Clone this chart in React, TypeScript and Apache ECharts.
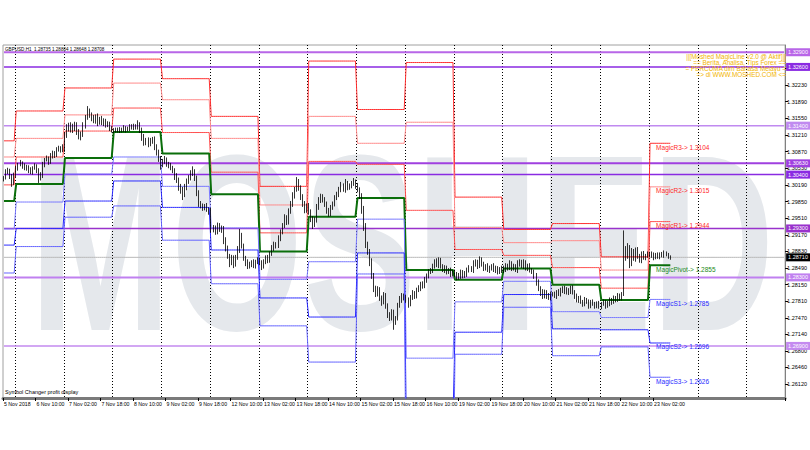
import React, { useEffect, useRef } from "react";
import * as echarts from "echarts";

// ---- structure ----
const barsPerDay = [6, 24, 24, 24, 24, 24, 24, 24, 24, 24, 24, 24, 24, 24, 11];
const totalSlots = 385;
const labelEvery = 16;
const separatorEvery = 24;
const firstSeparatorBar = 6;

const xTickLabels = [
  "5 Nov 2018", "6 Nov 10:00", "7 Nov 02:00", "7 Nov 18:00", "8 Nov 10:00", "9 Nov 02:00",
  "9 Nov 18:00", "12 Nov 10:00", "13 Nov 02:00", "13 Nov 18:00", "14 Nov 10:00", "15 Nov 02:00",
  "15 Nov 18:00", "16 Nov 10:00", "19 Nov 02:00", "19 Nov 18:00", "20 Nov 10:00", "21 Nov 02:00",
  "21 Nov 18:00", "22 Nov 10:00", "23 Nov 02:00",
];

const yTickValues = [
  1.2612, 1.2646, 1.268, 1.2714, 1.2747, 1.2781, 1.2815, 1.2849, 1.2883, 1.2917,
  1.2951, 1.2985, 1.3019, 1.3053, 1.3087, 1.3121, 1.3155, 1.3189, 1.3223, 1.3257,
];
const yMin = 1.25836;
const yMax = 1.33048;

// ---- GBPUSD H1 candles ----
const firstOpen = 1.3031;
const closes = [
  1.3033, 1.3045, 1.3049, 1.3037, 1.3023, 1.3039,
  1.3053, 1.3060, 1.3064, 1.3058, 1.3053, 1.3056, 1.3049, 1.3045, 1.3053, 1.3058, 1.3049, 1.3033, 1.3037, 1.3060, 1.3070, 1.3074, 1.3066, 1.3078, 1.3084, 1.3080, 1.3090, 1.3094, 1.3090, 1.3096,
  1.3121, 1.3135, 1.3141, 1.3131, 1.3137, 1.3143, 1.3127, 1.3117, 1.3123, 1.3139, 1.3156, 1.3168, 1.3162, 1.3156, 1.3150, 1.3158, 1.3147, 1.3154, 1.3145, 1.3150, 1.3141, 1.3143, 1.3135, 1.3131,
  1.3129, 1.3131, 1.3133, 1.3129, 1.3131, 1.3135, 1.3131, 1.3133, 1.3137, 1.3139, 1.3135, 1.3137, 1.3143, 1.3131, 1.3117, 1.3105, 1.3111, 1.3103, 1.3109, 1.3113, 1.3098, 1.3086, 1.3074, 1.3060,
  1.3066, 1.3070, 1.3062, 1.3058, 1.3053, 1.3049, 1.3037, 1.3029, 1.3017, 1.3009, 1.3000, 1.3013, 1.3025, 1.3033, 1.3041, 1.3045, 1.3033, 1.3004, 1.2980, 1.2976, 1.2972, 1.2976, 1.2968, 1.2964,
  1.2927, 1.2931, 1.2923, 1.2935, 1.2927, 1.2931, 1.2906, 1.2890, 1.2874, 1.2861, 1.2870, 1.2857, 1.2870, 1.2886, 1.2915, 1.2894, 1.2870, 1.2861, 1.2853, 1.2857, 1.2861, 1.2853, 1.2861, 1.2865,
  1.2861, 1.2853, 1.2861, 1.2870, 1.2865, 1.2878, 1.2890, 1.2898, 1.2894, 1.2910, 1.2923, 1.2935, 1.2951, 1.2943, 1.2964, 1.2980, 1.2996, 1.3009, 1.3025, 1.3013, 1.2996, 1.2980, 1.2968, 1.2976,
  1.2964, 1.2951, 1.2939, 1.2947, 1.2972, 1.2988, 1.2996, 1.2988, 1.2980, 1.2968, 1.2960, 1.2972, 1.2980, 1.2992, 1.3000, 1.3009, 1.3017, 1.3009, 1.3021, 1.3013, 1.3017, 1.3021, 1.3025, 1.3017,
  1.3009, 1.2996, 1.2968, 1.2935, 1.2898, 1.2882, 1.2861, 1.2833, 1.2808, 1.2796, 1.2804, 1.2788, 1.2780, 1.2792, 1.2772, 1.2755, 1.2747, 1.2759, 1.2739, 1.2747, 1.2772, 1.2784, 1.2792, 1.2788,
  1.2784, 1.2776, 1.2788, 1.2796, 1.2792, 1.2804, 1.2808, 1.2817, 1.2812, 1.2825, 1.2833, 1.2841, 1.2845, 1.2853, 1.2861, 1.2857, 1.2865, 1.2853, 1.2845, 1.2849, 1.2841, 1.2845, 1.2837, 1.2841,
  1.2837, 1.2829, 1.2833, 1.2841, 1.2833, 1.2837, 1.2845, 1.2849, 1.2845, 1.2857, 1.2861, 1.2853, 1.2865, 1.2857, 1.2849, 1.2853, 1.2845, 1.2849, 1.2853, 1.2845, 1.2849, 1.2841, 1.2845, 1.2849,
  1.2845, 1.2853, 1.2849, 1.2857, 1.2849, 1.2853, 1.2845, 1.2857, 1.2861, 1.2853, 1.2861, 1.2849, 1.2853, 1.2845, 1.2841, 1.2833, 1.2821, 1.2808, 1.2800, 1.2792, 1.2800, 1.2792, 1.2788, 1.2796,
  1.2796, 1.2792, 1.2800, 1.2796, 1.2804, 1.2808, 1.2800, 1.2804, 1.2800, 1.2808, 1.2800, 1.2792, 1.2784, 1.2788, 1.2780, 1.2776, 1.2784, 1.2780, 1.2772, 1.2780, 1.2776, 1.2772, 1.2776, 1.2770,
  1.2776, 1.2780, 1.2772, 1.2776, 1.2784, 1.2780, 1.2788, 1.2784, 1.2792, 1.2788, 1.2796, 1.2886, 1.2874, 1.2890, 1.2861, 1.2882, 1.2870, 1.2886, 1.2874, 1.2865, 1.2878, 1.2870, 1.2874, 1.2878,
  1.2874, 1.2878, 1.2870, 1.2876, 1.2872, 1.2878, 1.2874, 1.2880, 1.2876, 1.2872, 1.2871,
];
const upWickPips = [
  4, 6, 5, 3, 4, 5,
  5, 4, 6, 3, 5, 4, 3, 6, 4, 5, 3, 4, 8, 6, 4, 5, 3, 6, 5, 4, 6, 5, 4, 6,
  6, 8, 5, 6, 7, 5, 4, 6, 5, 8, 6, 12, 7, 5, 6, 5, 7, 4, 6, 5, 4, 6, 5, 4,
  4, 5, 3, 4, 5, 6, 4, 5, 6, 4, 5, 6, 8, 4, 5, 6, 4, 5, 6, 4, 5, 4, 5, 4,
  6, 8, 5, 4, 6, 5, 4, 6, 5, 4, 6, 8, 7, 6, 8, 12, 6, 5, 4, 6, 5, 4, 6, 5,
  8, 6, 5, 7, 6, 5, 4, 6, 5, 4, 6, 5, 6, 8, 14, 6, 5, 4, 6, 5, 4, 6, 5, 6,
  5, 4, 6, 5, 6, 5, 6, 5, 4, 6, 5, 6, 8, 6, 7, 6, 8, 6, 10, 6, 5, 4, 6, 5,
  6, 5, 4, 6, 8, 6, 5, 4, 6, 5, 4, 6, 5, 6, 5, 6, 8, 5, 10, 6, 5, 6, 8, 5,
  6, 5, 6, 8, 6, 5, 6, 8, 6, 5, 8, 6, 5, 8, 6, 5, 4, 6, 5, 4, 6, 8, 6, 5,
  6, 5, 6, 8, 6, 5, 6, 4, 5, 6, 5, 6, 4, 5, 6, 8, 6, 5, 4, 6, 5, 4, 5, 4,
  5, 4, 6, 5, 4, 6, 5, 6, 4, 8, 6, 5, 8, 6, 5, 4, 6, 5, 4, 6, 5, 4, 6, 5,
  5, 6, 5, 8, 6, 5, 4, 8, 6, 5, 6, 4, 5, 6, 4, 5, 6, 5, 4, 6, 5, 4, 6, 5,
  4, 5, 4, 6, 5, 4, 5, 6, 4, 5, 6, 4, 5, 4, 5, 4, 6, 4, 5, 4, 5, 4, 5, 6,
  4, 5, 4, 6, 5, 4, 5, 4, 6, 5, 4, 40, 8, 10, 6, 8, 6, 5, 6, 4, 5, 6, 4, 5,
  4, 5, 3, 4, 5, 3, 4, 5, 3, 4, 3,
];
const downWickPips = [
  5, 3, 4, 6, 8, 4,
  4, 5, 3, 6, 4, 5, 6, 4, 5, 3, 6, 10, 5, 4, 5, 3, 6, 4, 5, 6, 4, 3, 5, 4,
  10, 6, 7, 5, 6, 8, 6, 5, 7, 6, 5, 4, 6, 7, 5, 6, 8, 5, 4, 6, 5, 4, 6, 5,
  4, 3, 5, 4, 3, 4, 5, 3, 4, 5, 4, 3, 5, 6, 8, 6, 5, 7, 5, 6, 8, 7, 8, 10,
  5, 4, 6, 5, 4, 6, 8, 6, 10, 8, 12, 6, 5, 4, 5, 4, 6, 8, 6, 5, 6, 5, 4, 6,
  6, 5, 6, 5, 4, 6, 8, 7, 6, 10, 6, 8, 5, 4, 6, 5, 6, 8, 6, 5, 6, 4, 5, 4,
  6, 8, 5, 4, 6, 5, 4, 6, 5, 4, 6, 5, 4, 6, 5, 4, 6, 5, 4, 6, 8, 6, 7, 6,
  6, 8, 10, 6, 5, 4, 6, 5, 6, 8, 6, 5, 4, 5, 4, 6, 5, 4, 6, 5, 4, 5, 4, 6,
  5, 6, 8, 10, 8, 6, 8, 6, 8, 6, 5, 6, 8, 5, 6, 8, 6, 5, 16, 6, 5, 4, 6, 5,
  6, 8, 5, 4, 6, 5, 4, 6, 5, 4, 6, 5, 4, 6, 5, 6, 8, 5, 4, 6, 5, 4, 6, 5,
  6, 5, 4, 6, 5, 4, 6, 5, 4, 6, 5, 6, 4, 5, 6, 5, 4, 6, 5, 4, 6, 5, 4, 6,
  6, 4, 5, 4, 6, 5, 4, 6, 5, 4, 6, 5, 6, 5, 4, 6, 8, 6, 8, 6, 5, 6, 4, 5,
  5, 4, 6, 4, 5, 6, 4, 5, 6, 4, 5, 6, 5, 6, 4, 6, 5, 4, 6, 5, 4, 6, 5, 4,
  5, 4, 6, 4, 5, 6, 4, 5, 4, 6, 5, 4, 10, 6, 12, 8, 6, 8, 6, 5, 6, 4, 5, 4,
  3, 4, 5, 3, 4, 5, 3, 4, 3, 4, 5,
];

// ---- daily MagicLine levels (one value per day) ----
const magicR3 = [1.3109, 1.317, 1.3217, 1.3276, 1.3236, 1.3159, 1.3016, 1.3272, 1.3173, 1.3269, 1.2994, 1.2928, 1.294, 1.2872, 1.3104];
const magicR2 = [1.3076, 1.3114, 1.3162, 1.3227, 1.3193, 1.3114, 1.2978, 1.3159, 1.3104, 1.3147, 1.2932, 1.2901, 1.2905, 1.2845, 1.3015];
const magicR1 = [1.3019, 1.3076, 1.3129, 1.3176, 1.3126, 1.3045, 1.2921, 1.3067, 1.3061, 1.2967, 1.2887, 1.2875, 1.285, 1.2808, 1.2944];
const magicPivot = [1.2986, 1.3021, 1.3074, 1.3127, 1.3083, 1.3, 1.2883, 1.2954, 1.2992, 1.2845, 1.2825, 1.2848, 1.2815, 1.2784, 1.2855];
const magicS1 = [1.2929, 1.2984, 1.3041, 1.3076, 1.3016, 1.2931, 1.2826, 1.2862, 1.2949, 1.2665, 1.278, 1.2822, 1.276, 1.2748, 1.2785];
const magicS2 = [1.2896, 1.293, 1.2986, 1.3027, 1.2973, 1.2886, 1.2788, 1.2749, 1.288, 1.2543, 1.2718, 1.2795, 1.2725, 1.2723, 1.2696];
const magicS3 = [1.2839, 1.2893, 1.2953, 1.2976, 1.2906, 1.2817, 1.2731, 1.2657, 1.2837, 1.2363, 1.2673, 1.2769, 1.267, 1.2688, 1.2626];

const magicNames = ["MagicR3", "MagicR2", "MagicR1", "MagicPivot", "MagicS1", "MagicS2", "MagicS3"];
const magicLevels = [magicR3, magicR2, magicR1, magicPivot, magicS1, magicS2, magicS3];
const magicColors = ["#ff3030", "#ff8a8a", "#ff5050", "#0a6e0a", "#7878ff", "#2a2aff", "#6464ff"];
const magicLabelColors = ["#ff2a2a", "#ff2a2a", "#ff2a2a", "#1a8a1a", "#2a2aff", "#2a2aff", "#2a2aff"];

// ---- horizontal round-number levels ----
const purpleLevels = [1.329, 1.326, 1.314, 1.3063, 1.304, 1.293, 1.283, 1.269];
const purpleColors = ["#b866e8", "#8a2be2", "#c08af0", "#a040e0", "#8a2be2", "#9932cc", "#c080f0", "#c48af0"];
const purpleWidths = [2, 1.5, 1.5, 2, 1.5, 1.5, 2, 1.5];

const headerText = "GBPUSD,H1  1.28735 1.28804 1.28648 1.28708";
const promoLines = [
  "||[Moshed MagicLine v2.0 @ Aktif]||",
  "== Berita, Analisa, Tips Forex ==",
  "= PERCUMA dlm Bahasa Melayu =",
  "=> di WWW.MOSHED.COM <=",
];
const footerText = "Symbol Changer profit display";
const watermark = "MOSHED";

const FONT = "Liberation Sans";

export default function App() {
  const ref = useRef<HTMLDivElement>(null);

  useEffect(() => {
    if (!ref.current) return;
    const chart = echarts.init(ref.current, null, { renderer: "svg" });

    const n = closes.length;
    const dayOfBar: number[] = [];
    barsPerDay.forEach((c, d) => {
      for (let k = 0; k < c; k++) dayOfBar.push(d);
    });

    const candles: number[][] = [];
    for (let i = 0; i < n; i++) {
      const o = i === 0 ? firstOpen : closes[i - 1];
      const c = closes[i];
      const hi = Math.max(o, c) + upWickPips[i] * 0.0001;
      const lo = Math.min(o, c) - downWickPips[i] * 0.0001;
      candles.push([o, c, lo, hi]);
    }

    const categories: string[] = [];
    for (let i = 0; i < totalSlots; i++) categories.push("b" + i);

    const lastDay = barsPerDay.length - 1;
    const labelBar = n - 8;

    const magicSeries = magicLevels.map((lv, k) => ({
      type: "line",
      name: magicNames[k],
      data: dayOfBar.map((d) => lv[d]),
      symbol: "none",
      clip: true,
      z: 3,
      lineStyle: { color: magicColors[k], width: k === 3 ? 2 : 1 },
      markPoint: {
        symbol: "circle",
        symbolSize: 0,
        silent: true,
        data: [{ coord: [labelBar, lv[lastDay]], value: lv[lastDay] }],
        label: {
          show: true,
          position: "right",
          distance: 0,
          offset: [0, 4],
          color: magicLabelColors[k],
          fontSize: 6.5,
          fontFamily: FONT,
          formatter: () => `${magicNames[k]}-> ${lv[lastDay].toFixed(4)}`,
        },
      },
    }));

    const lastClose = closes[n - 1];

    const levelSeries = (value: number, color: string, width: number, labelBg: string, z: number) => ({
      type: "line",
      data: categories.map(() => value),
      symbol: "none",
      silent: true,
      z,
      lineStyle: { color, width },
      endLabel: {
        show: true,
        distance: 2,
        formatter: () => value.toFixed(5),
        color: "#fff",
        backgroundColor: labelBg,
        fontSize: 5.5,
        padding: [1, 2],
        fontFamily: FONT,
      },
    });

    const option: any = {
      animation: false,
      textStyle: { fontFamily: FONT },
      grid: {
        left: 3,
        right: 24,
        top: 45,
        bottom: 52,
        show: true,
        borderColor: "#a0a0a0",
        borderWidth: 1,
        backgroundColor: "transparent",
      },
      xAxis: {
        type: "category",
        data: categories,
        boundaryGap: true,
        axisLine: { show: true, lineStyle: { color: "#7a7a7a", width: 3 } },
        axisTick: {
          show: true,
          length: 3,
          interval: (idx: number) => idx % labelEvery === 0 && idx / labelEvery < xTickLabels.length,
          lineStyle: { color: "#000" },
        },
        axisLabel: {
          show: true,
          interval: (idx: number) => idx % labelEvery === 0 && idx / labelEvery < xTickLabels.length,
          formatter: (_v: string, idx: number) => xTickLabels[idx / labelEvery] ?? "",
          align: "left",
          margin: 3,
          fontSize: 5.2,
          color: "#000",
          fontFamily: FONT,
        },
        splitLine: {
          show: true,
          interval: (idx: number) => idx >= firstSeparatorBar && (idx - firstSeparatorBar) % separatorEvery === 0,
          lineStyle: { color: "#000", type: [1, 2], width: 1 },
        },
      },
      yAxis: {
        type: "value",
        position: "right",
        min: yMin,
        max: yMax,
        scale: true,
        axisLine: { show: true, lineStyle: { color: "#808080", width: 1 } },
        axisTick: { show: true, length: 3, customValues: yTickValues, lineStyle: { color: "#000" } },
        axisLabel: {
          show: true,
          customValues: yTickValues,
          formatter: (v: number) => v.toFixed(5),
          fontSize: 5.5,
          margin: 2,
          color: "#000",
          fontFamily: FONT,
        },
        splitLine: { show: false },
      },
      graphic: [
        {
          type: "text",
          x: 402,
          y: 243,
          z: 0,
          silent: true,
          scaleX: 0.676,
          style: {
            text: watermark,
            font: `bold 251px '${FONT}'`,
            fill: "#e5e8ec",
            textAlign: "center",
            textVerticalAlign: "middle",
          },
        },
        {
          type: "text",
          x: 5,
          y: 49.5,
          z: 10,
          style: {
            text: headerText,
            font: `4.6px '${FONT}'`,
            fill: "#000",
            textVerticalAlign: "middle",
          },
        },
        ...promoLines.map((t, i) => ({
          type: "text",
          x: 786,
          y: 56 + i * 6.2,
          z: 10,
          style: {
            text: t,
            font: `6.4px '${FONT}'`,
            fill: "#f2b400",
            textAlign: "right",
            textVerticalAlign: "middle",
          },
        })),
        {
          type: "text",
          x: 5,
          y: 392,
          z: 10,
          style: {
            text: footerText,
            font: `5.5px '${FONT}'`,
            fill: "#000",
            textVerticalAlign: "middle",
          },
        },
      ],
      series: [
        ...purpleLevels.map((v, k) => levelSeries(v, purpleColors[k], purpleWidths[k], purpleColors[k], 1)),
        levelSeries(lastClose, "#b8b8b8", 1, "#000", 1),
        ...magicSeries,
        {
          type: "candlestick",
          data: candles,
          z: 4,
          barWidth: 1.3,
          itemStyle: {
            color: "#1f9e1f",
            color0: "#5a0a0a",
            borderColor: "#000",
            borderColor0: "#000",
            borderWidth: 0.8,
          },
        },
      ],
    };

    chart.setOption(option);
    return () => chart.dispose();
  }, []);

  return (
    <div
      ref={ref}
      style={{ position: "fixed", left: 0, top: 0, width: 810, height: 450, background: "#fff" }}
    />
  );
}
